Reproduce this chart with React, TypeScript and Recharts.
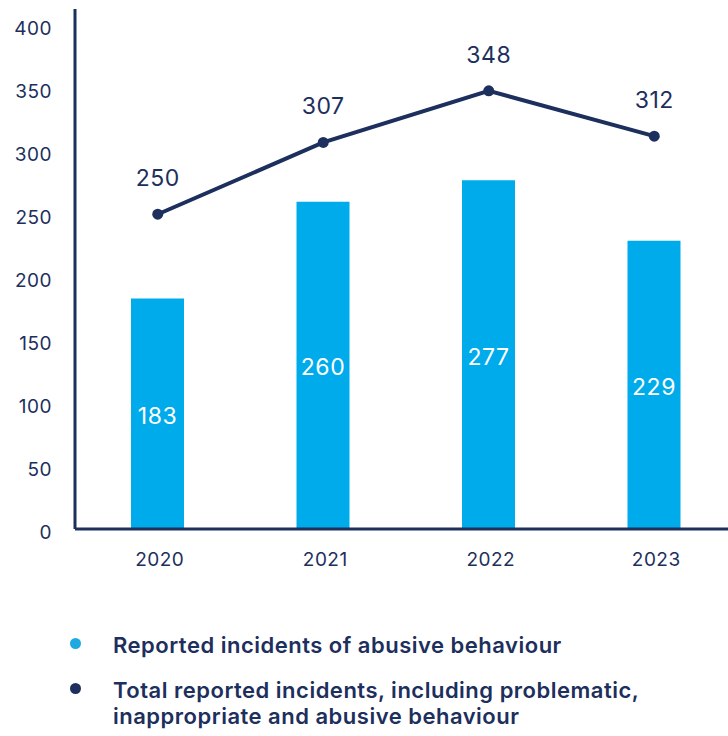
import React from "react";
import { ComposedChart, Bar, Line, XAxis, YAxis, LabelList } from "recharts";

const years = ["2020", "2021", "2022", "2023"];
const abusive = [183, 260, 277, 229];
const total = [250, 307, 348, 312];
const yTicks = [0, 50, 100, 150, 200, 250, 300, 350, 400];
const legendItems = [
  ["Reported incidents of abusive behaviour"],
  ["Total reported incidents, including problematic,", "inappropriate and abusive behaviour"],
];

const NAVY = "#1d2f5d";
const BLUE = "#00abeb";
const FONT = "Inter, 'Noto Sans', sans-serif";

const data = years.map((y, i) => ({ year: y, abusive: abusive[i], total: total[i] }));

const LineLabel = (props: any) => {
  const { x, y, value } = props;
  return (
    <text x={x} y={y - 36} textAnchor="middle" dominantBaseline="central" fill={NAVY} fontSize={23} letterSpacing={0.5} fontFamily={FONT}>
      {value}
    </text>
  );
};

const BarLabel = (props: any) => {
  const { x, y, width, height, value } = props;
  return (
    <text x={x + width / 2} y={y + height / 2 + 2} textAnchor="middle" dominantBaseline="central" fill="#ffffff" fontSize={23} letterSpacing={0.5} fontFamily={FONT}>
      {value}
    </text>
  );
};

export default function App() {
  return (
    <div style={{ position: "absolute", left: 0, top: 0, width: 728, height: 736, overflow: "hidden", background: "#fff", fontFamily: FONT }}>
      <ComposedChart width={737} height={580} data={data} margin={{ top: 9, right: 0, bottom: 0, left: 0 }}>
        <XAxis
          dataKey="year"
          axisLine={{ stroke: NAVY, strokeWidth: 3 }}
          tickLine={false}
          tickSize={0}
          tickMargin={24}
          height={51}
          tick={{ fill: NAVY, fontSize: 19, letterSpacing: 0.5, fontFamily: FONT, dx: 2 }}
        />
        <YAxis
          domain={[0, 413]}
          ticks={yTicks}
          width={75}
          axisLine={{ stroke: NAVY, strokeWidth: 3 }}
          tickLine={false}
          tickSize={0}
          tickMargin={23}
          tick={{ fill: NAVY, fontSize: 19, letterSpacing: 0.5, fontFamily: FONT, dy: 3 }}
          interval={0}
        />
        <Bar dataKey="abusive" fill={BLUE} barSize={53} isAnimationActive={false}>
          <LabelList dataKey="abusive" content={<BarLabel />} />
        </Bar>
        <Line
          dataKey="total"
          stroke={NAVY}
          strokeWidth={4}
          dot={{ r: 5.5, fill: NAVY, stroke: NAVY, strokeWidth: 0 }}
          isAnimationActive={false}
        >
          <LabelList dataKey="total" content={<LineLabel />} />
        </Line>
      </ComposedChart>
      <div style={{ position: "absolute", left: 0, top: 632, width: 728 }}>
        {legendItems.map((lines, i) => (
          <div key={i} style={{ position: "relative", paddingLeft: 113, marginBottom: 19, lineHeight: "26px", fontSize: 22, letterSpacing: 0.5, fontWeight: 600, color: NAVY, whiteSpace: "nowrap" }}>
            <span
              style={{
                position: "absolute",
                left: 70,
                top: 6,
                width: 11,
                height: 11,
                borderRadius: "50%",
                background: i === 0 ? "#1ea9e1" : NAVY,
              }}
            />
            {lines.map((l, j) => (
              <div key={j}>{l}</div>
            ))}
          </div>
        ))}
      </div>
    </div>
  );
}
